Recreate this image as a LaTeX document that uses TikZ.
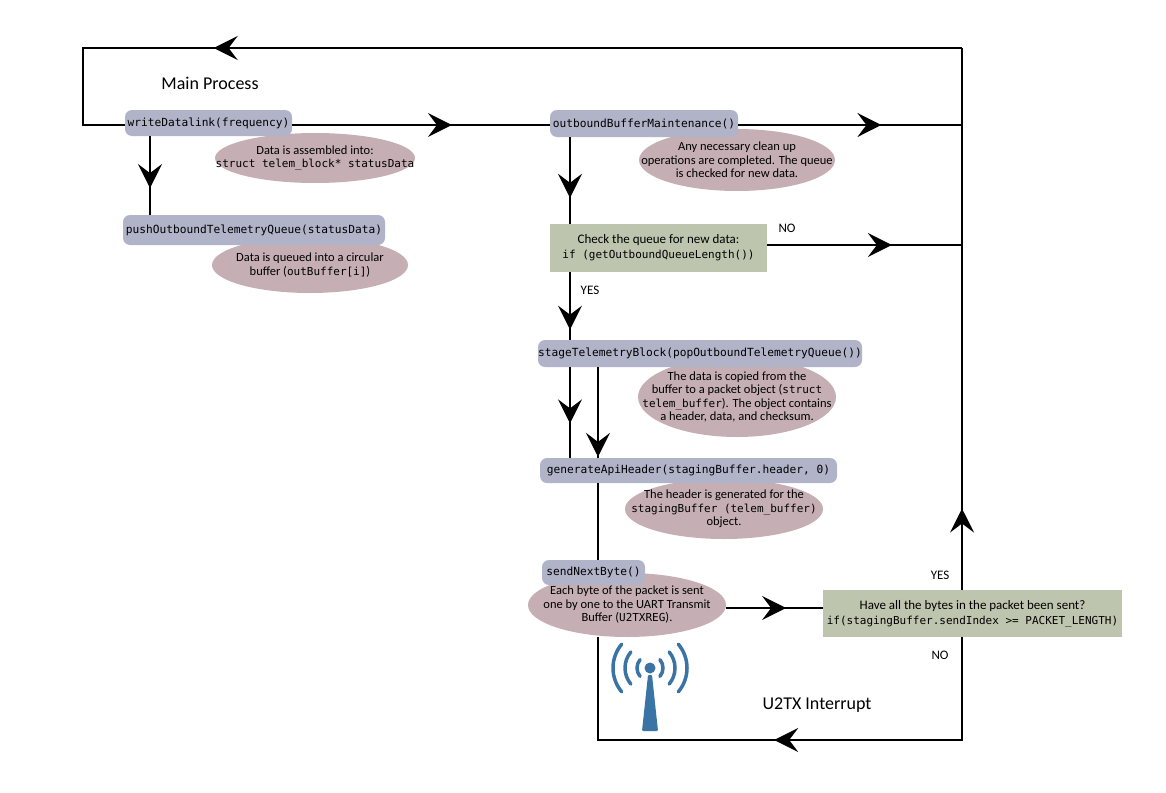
\documentclass[tikz,border=0pt]{standalone}
\usepackage{fontspec}
\setmainfont{Carlito}
\setmonofont{DejaVu Sans Mono}
\usetikzlibrary{arrows.meta,shapes.geometric,decorations.markings}
\definecolor{boxc}{HTML}{B1B3C8}
\definecolor{ellc}{HTML}{C5AFB4}
\definecolor{grn}{HTML}{BEC5AE}
\definecolor{wifi}{HTML}{3A74A5}
\begin{document}
\begin{tikzpicture}[x=1pt,y=-1pt,
  fn/.style={rounded corners=7pt,fill=boxc,inner sep=0pt,font=\ttfamily\fontsize{11.2}{13}\selectfont},
  note/.style={ellipse,fill=ellc,inner xsep=-30pt,inner ysep=-12pt,align=center,font=\fontsize{12.5}{13.5}\selectfont},
  dec/.style={fill=grn,inner sep=0pt,align=center,font=\fontsize{13}{15}\selectfont},
  lbl/.style={font=\fontsize{13}{14}\selectfont},
  ttl/.style={font=\fontsize{18}{20}\selectfont},
  line/.style={line width=1.8pt},
  mark/.style={postaction={decorate,decoration={markings,mark=at position #1 with {\arrow{Stealth[length=24pt,width=24pt,inset=9pt]}}}}}]
\useasboundingbox (0,0) rectangle (1166,792);
% notes
\node[note,minimum width=200pt,minimum height=50pt] (e1) at (315,158) {Data is assembled into:\\\ttfamily\fontsize{11}{13}\selectfont struct telem\_block* statusData};
\node[note,minimum width=196pt,minimum height=56pt] (e2) at (310,265) {Data is queued into a circular\\buffer (\texttt{\fontsize{11}{13}\selectfont outBuffer[i]})};
\node[note,minimum width=196pt,minimum height=62pt] (e3) at (737,160) {Any necessary clean up\\operations are completed. The queue\\is checked for new data.};
\node[note,minimum width=198pt,minimum height=80pt] (e4) at (737,397) {The data is copied from the\\buffer to a packet object (\texttt{\fontsize{11}{13}\selectfont struct}\\\texttt{\fontsize{11}{13}\selectfont telem\_buffer}). The object contains\\a header, data, and checksum.};
\node[note,minimum width=198pt,minimum height=60pt] (e5) at (724,509) {The header is generated for the\\\texttt{\fontsize{11}{13}\selectfont stagingBuffer (telem\_buffer)}\\object.};
\node[note,minimum width=198pt,minimum height=64pt] (e6) at (627,605) {Each byte of the packet is sent\\one by one to the UART Transmit\\Buffer (\texttt{\fontsize{11}{13}\selectfont U2TXREG}).};
% functions
\node[fn,minimum width=167pt,minimum height=26pt] (w) at (208.5,123) {writeDatalink(frequency)};
\node[fn,minimum width=262pt,minimum height=30pt] (p) at (254,230) {pushOutboundTelemetryQueue(statusData)};
\node[fn,minimum width=188pt,minimum height=27pt] (o) at (644,123.5) {outboundBufferMaintenance()};
\node[dec,minimum width=217pt,minimum height=48pt] (c) at (658.5,248) {Check the queue for new data:\\\ttfamily\fontsize{11}{13}\selectfont if (getOutboundQueueLength())};
\node[fn,minimum width=324pt,minimum height=27pt] (s) at (700,353.5) {stageTelemetryBlock(popOutboundTelemetryQueue())};
\node[fn,minimum width=297pt,minimum height=25pt] (g) at (688.5,470.5) {generateApiHeader(stagingBuffer.header, 0)};
\node[fn,minimum width=103pt,minimum height=25pt] (n) at (593.5,572.5) {sendNextByte()};
\node[dec,minimum width=299pt,minimum height=47pt] (d) at (972.5,613.5) {Have all the bytes in the packet been sent?\\\ttfamily\fontsize{11}{13}\selectfont if(stagingBuffer.sendIndex >= PACKET\_LENGTH)};
% corner coordinates
\coordinate (tl) at (83,48);
\coordinate (tr) at (962,48);
\coordinate (ml) at (83,125);
\coordinate (mr) at (962,125);
\coordinate (nr) at (962,245);
\coordinate (br) at (962,740);
\coordinate (bl) at (598,740);
\coordinate (sy) at (0,608);
% connectors
\draw[line,mark=0.15] (d.north -| tr) -- (tr);
\draw[line,mark=0.75] (tr) -- (tl) -- (ml) -- (ml -| w.west);
\draw[line,mark=0.62] (w.east |- ml) -- (o.west |- ml);
\draw[line,mark=0.64] (o.east |- mr) -- (mr);
\draw[line,mark=0.66] (150,0 |- w.south) -- (150,0 |- p.north);
\draw[line,mark=0.7] (570,0 |- o.south) -- (570,0 |- c.north);
\draw[line,mark=0.85] (570,0 |- c.south) -- (570,0 |- s.north);
\draw[line,mark=0.64] (c.east |- nr) -- (nr);
\draw[line,mark=0.62] (570,0 |- s.south) -- (570,0 |- g.north);
\draw[line,mark=0.99] (598,0 |- s.south) -- (598,0 |- g.north);
\draw[line] (598,0 |- g.south) -- (598,0 |- n.north);
\draw[line,mark=0.62] (e6.east |- sy) -- (d.west |- sy);
\draw[line,mark=0.51] (d.south -| br) -- (br) -- (bl) -- (598,637);
% labels
\node[ttl] (t1) at (210,83) {Main Process};
\node[ttl] (t2) at (817,705) {U2TX Interrupt};
\node[lbl] (l1) at (787,228) {NO};
\node[lbl] (l2) at (590,290) {YES};
\node[lbl] (l3) at (940,575) {YES};
\node[lbl] (l4) at (940,655) {NO};
% wireless icon
\begin{scope}[wifi,line width=3.5pt,line cap=round]
\fill (650,668) circle (5.5pt);
\fill[rounded corners=1pt] (648,675) -- (652,675) -- (658,731) -- (642,731) -- cycle;
\foreach \r in {13,25,37} {
  \draw (650,668) ++(140:\r) arc[start angle=140,end angle=220,radius=\r];
  \draw (650,668) ++(-40:\r) arc[start angle=-40,end angle=40,radius=\r];
}
\end{scope}
\end{tikzpicture}
\end{document}
